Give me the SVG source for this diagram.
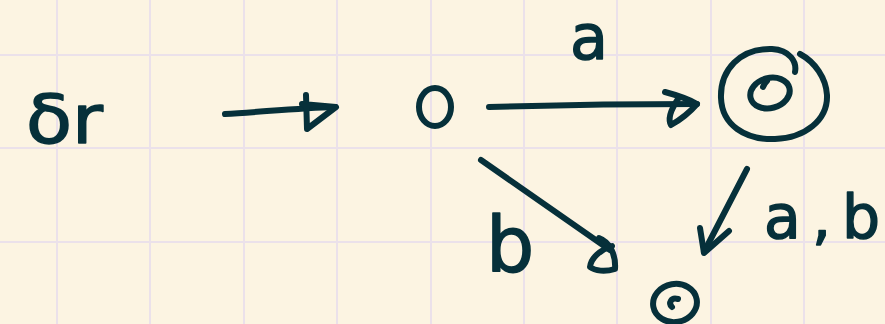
<svg xmlns="http://www.w3.org/2000/svg" width="885" height="324" viewBox="0 0 885 324">
  <style>
    .ink { fill: none; stroke: #06303a; stroke-width: 6; stroke-linecap: round; stroke-linejoin: round; }
    .grid { stroke: #ebe1ea; stroke-width: 2; }
    .lbl { font-family: "DejaVu Sans", "Noto Sans", sans-serif; fill: #06303a; stroke: #06303a; stroke-width: 1.5; stroke-linejoin: round; }
  </style>
  <rect x="0" y="0" width="885" height="324" fill="#fcf4e2"/>
  <g id="grid">
    <line class="grid" x1="57" y1="0" x2="57" y2="324"/>
    <line class="grid" x1="150" y1="0" x2="150" y2="324"/>
    <line class="grid" x1="244" y1="0" x2="244" y2="324"/>
    <line class="grid" x1="337" y1="0" x2="337" y2="324"/>
    <line class="grid" x1="431" y1="0" x2="431" y2="324"/>
    <line class="grid" x1="524" y1="0" x2="524" y2="324"/>
    <line class="grid" x1="617" y1="0" x2="617" y2="324"/>
    <line class="grid" x1="711" y1="0" x2="711" y2="324"/>
    <line class="grid" x1="804" y1="0" x2="804" y2="324"/>
    <line class="grid" x1="0" y1="55" x2="885" y2="55"/>
    <line class="grid" x1="0" y1="148" x2="885" y2="148"/>
    <line class="grid" x1="0" y1="242" x2="885" y2="242"/>
  </g>
  <g id="start-label">
    <text class="lbl" x="26" y="143" font-size="68" textLength="77" lengthAdjust="spacingAndGlyphs">δr</text>
  </g>
  <g id="q0">
    <ellipse class="ink" cx="435" cy="107" rx="16" ry="19"/>
  </g>
  <g id="q1">
    <path class="ink" d="M795,72 C797,62 790,50 772,49 C740,48 720,70 721,98 C722,125 745,140 775,139 C805,138 828,120 827,95 C826,78 815,62 800,54"/>
    <ellipse class="ink" cx="770" cy="93" rx="20" ry="15" transform="rotate(-15 770 93)"/>
    <path class="ink" d="M763,87 C764,84 766,82 767,81" stroke-width="2.5"/>
  </g>
  <g id="q2">
    <ellipse class="ink" cx="675" cy="303" rx="22" ry="19" transform="rotate(-10 675 303)"/>
    <path class="ink" d="M672,307 C668,303 671,297 678,299" stroke-width="3.5"/>
  </g>
  <g id="connectors">
    <path class="ink" d="M225,114 C260,112 300,108 335,107"/>
    <path class="ink" d="M306,95 L307,129 L336,107 L302,104"/>
    <path class="ink" d="M489,107 C560,105 640,104 697,104"/>
    <path class="ink" d="M665,92 C680,96 690,100 697,104 C690,112 680,120 671,125 C667,118 672,108 678,99"/>
    <path class="ink" d="M481,160 L610,250"/>
    <path class="ink" d="M599,238 C610,242 616,255 615,269 C605,272 595,271 590,267 C591,258 600,250 612,246"/>
    <path class="ink" d="M747,169 L704,252"/>
    <path class="ink" d="M700,228 L704,253 L729,231"/>
  </g>
  <g id="edge-labels">
    <text class="lbl" x="589" y="59" font-size="62" text-anchor="middle">a</text>
    <text class="lbl" x="510" y="271" font-size="76" text-anchor="middle">b</text>
    <text class="lbl" x="764 812 842" y="238" font-size="60">a,b</text>
  </g>
</svg>
